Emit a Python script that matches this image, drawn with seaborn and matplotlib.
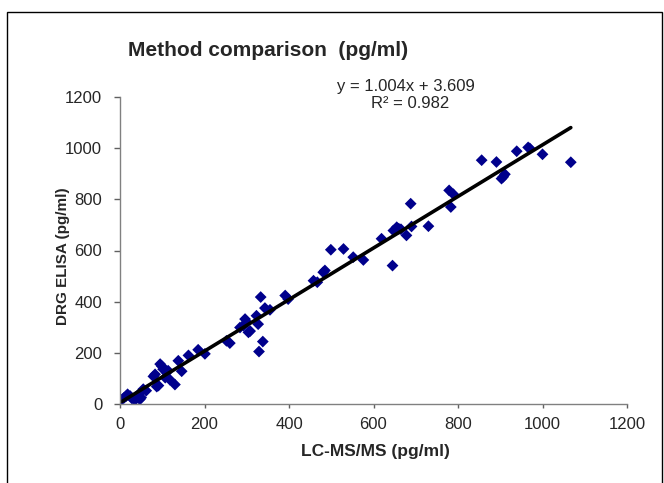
import matplotlib
matplotlib.use("Agg")
import matplotlib.pyplot as plt
import numpy as np
import pandas as pd
import seaborn as sns
from matplotlib.patches import Rectangle

# values (pg/ml)
lcms = [5, 10, 14, 18, 24, 28, 35, 40, 44, 47, 50, 55, 62,
        79, 83, 87, 91, 95, 99, 102, 107, 110, 114, 118, 130, 138, 146, 162, 185, 201,
        252, 260, 284, 292, 296, 300, 304, 308, 323, 327, 329, 333, 338, 343, 355,
        391, 398, 458, 467, 481, 485, 499, 529, 552, 576, 619, 645, 647, 655, 660,
        665, 678, 688, 690, 730,
        779, 789, 783, 856, 891, 903, 907, 911, 939, 966, 970, 1000, 1067]
elisa = [18, 25, 30, 38, 31, 22, 15, 28, 38, 18, 25, 58, 52,
         108, 116, 68, 72, 156, 148, 136, 103, 123, 130, 95, 76, 169, 128, 190, 212, 196,
         247, 238, 299, 306, 332, 320, 280, 285, 345, 312, 205, 418, 244, 375, 368,
         424, 410, 482, 476, 515, 522, 603, 606, 574, 563, 646, 541, 678, 691, 685,
         683, 659, 783, 694, 695,
         835, 820, 770, 953, 946, 881, 888, 898, 988, 1003, 999, 976, 945]

title = "Method comparison  (pg/ml)"
eq_text = "y = 1.004x + 3.609"
r2_text = "R² = 0.982"
ticks = [0, 200, 400, 600, 800, 1000, 1200]

df = pd.DataFrame({"LC-MS/MS": lcms, "DRG ELISA": elisa})

sns.set_style("white")
plt.rcParams["font.family"] = ["Liberation Sans", "DejaVu Sans"]

W, H = 664, 483
fig = plt.figure(figsize=(W / 100, H / 100), dpi=100)
ax = fig.add_axes([120 / W, (H - 404) / H, 507 / W, 307 / H])

sns.regplot(data=df, x="LC-MS/MS", y="DRG ELISA", ax=ax, ci=None, marker="D",
            scatter_kws=dict(color="#00008c", s=36, edgecolor="none", alpha=1),
            line_kws=dict(color="black", lw=2.6))

ax.set_xlim(0, 1200)
ax.set_ylim(0, 1200)
ax.set_xticks(ticks)
ax.set_yticks(ticks)
ax.tick_params(axis="x", direction="out", length=3, width=1, color="#606060",
               labelsize=12, pad=6.5, bottom=True)
ax.tick_params(axis="y", direction="out", length=4.3, width=1, color="#606060",
               labelsize=12, pad=8.5, left=True)
for side in ["top", "right"]:
    ax.spines[side].set_visible(False)
for side in ["left", "bottom"]:
    ax.spines[side].set_color("#808080")
    ax.spines[side].set_linewidth(1)

ax.set_xlabel("LC-MS/MS (pg/ml)", fontsize=12.5, fontweight="bold")
ax.xaxis.set_label_coords((375 - 120) / 507, -(444 - 404) / 307)
ax.set_ylabel("")
fig.text(63 / W, 1 - 256 / H, "DRG ELISA (pg/ml)", rotation=90, ha="center",
         va="center", fontsize=11, fontweight="bold")

fig.text(128 / W, 1 - 50 / H, title, ha="left", va="center",
         fontsize=15, fontweight="bold")
fig.text(406 / W, 1 - 87 / H, eq_text, ha="center", va="center", fontsize=12)
fig.text(410 / W, 1 - 103 / H, r2_text, ha="center", va="center", fontsize=12)

# outer frame of the original chart area
fig.patches.append(Rectangle((7 / W, -0.2), 655 / W, 1.2 - 12 / H,
                             transform=fig.transFigure, fill=False,
                             edgecolor="black", lw=1, clip_on=False))

fig.savefig("out.png", dpi=100)
